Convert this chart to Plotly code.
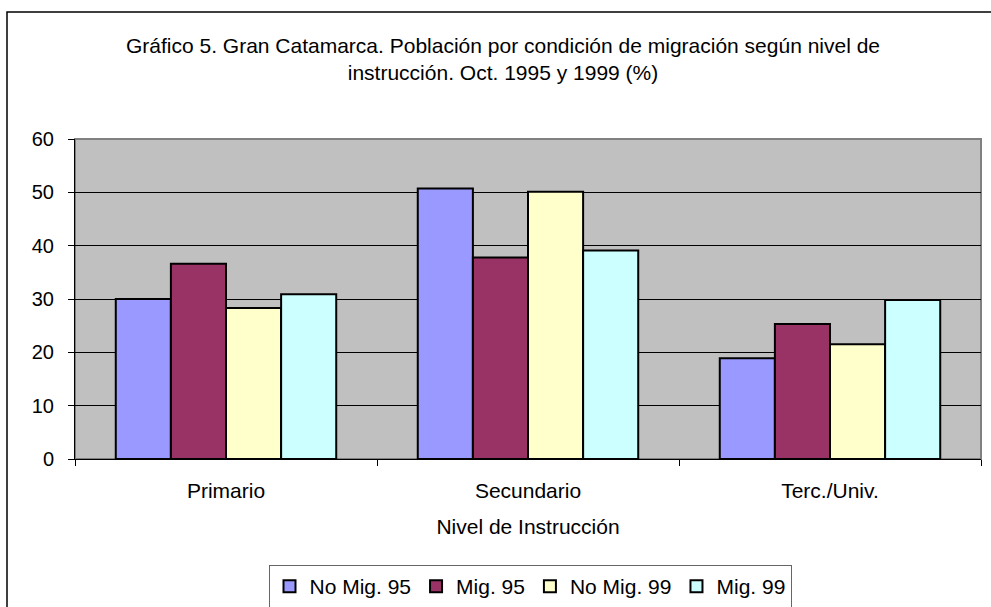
import plotly.graph_objects as go

categories = ["Primario", "Secundario", "Terc./Univ."]
series_names = ["No Mig. 95", "Mig. 95", "No Mig. 99", "Mig. 99"]
no_mig_95 = [30.0, 50.7, 18.9]
mig_95 = [36.6, 37.8, 25.3]
no_mig_99 = [28.3, 50.1, 21.5]
mig_99 = [30.9, 39.1, 29.8]
colors = ["#9999FF", "#993366", "#FFFFCC", "#CCFFFF"]
y_ticks = [0, 10, 20, 30, 40, 50, 60]

FONT = "Liberation Sans, Arial, sans-serif"
FS = 21

fig = go.Figure()
for name, vals, col in zip(series_names, [no_mig_95, mig_95, no_mig_99, mig_99], colors):
    fig.add_trace(go.Bar(
        x=categories, y=vals, name=name,
        marker=dict(color=col, line=dict(color="black", width=2)),
    ))

L, R, T, B = 75, 10, 139, 148
W, H = 991, 607
pw = W - L - R
ph = H - T - B

def px_x(x):
    return (x - L) / pw

def px_y(y):
    return (H - B - y) / ph

fig.update_layout(
    width=W, height=H,
    margin=dict(l=L, r=R, t=T, b=B, autoexpand=False),
    paper_bgcolor="white",
    plot_bgcolor="#C0C0C0",
    barmode="group",
    bargap=0.27,
    bargroupgap=0,
    font=dict(family=FONT, size=FS, color="black"),
    title=dict(
        text="Gráfico 5. Gran Catamarca. Población por condición de migración según nivel de<br>instrucción. Oct. 1995 y 1999 (%)",
        x=503 / W, xref="container", xanchor="center",
        y=1 - 53 / H, yref="container", yanchor="top",
        font=dict(family=FONT, size=FS, color="black"),
    ),
    xaxis=dict(
        type="category",
        automargin=False,
        tickson="boundaries",
        ticks="outside", ticklen=6, tickcolor="black",
        showline=True, linecolor="black", linewidth=1,
        showgrid=False,
        tickfont=dict(size=FS),
        ticklabelstandoff=13,
        title=dict(text="Nivel de Instrucción", font=dict(size=FS), standoff=18),
    ),
    yaxis=dict(
        automargin=False,
        range=[0, 60],
        tickvals=y_ticks,
        ticks="outside", ticklen=6, tickcolor="black",
        showline=True, linecolor="black", linewidth=1,
        showgrid=True, gridcolor="black", gridwidth=1,
        zeroline=False,
        tickfont=dict(size=20),
        ticklabelstandoff=10,
    ),
    legend=dict(
        orientation="h",
        x=px_x(530), xanchor="center",
        y=px_y(565), yanchor="top",
        bordercolor="#666666", borderwidth=1,
        bgcolor="white",
        font=dict(size=FS),
        itemwidth=30,
    ),
    showlegend=True,
)

# plot area border (gray) and outer chart border
fig.add_shape(type="rect", xref="paper", yref="paper", x0=0, y0=0, x1=1, y1=1,
              line=dict(color="#808080", width=2), layer="below")
fig.add_shape(type="rect", xref="paper", yref="paper",
              x0=px_x(7), y0=px_y(640), x1=px_x(1010), y1=px_y(12),
              line=dict(color="black", width=1.5), fillcolor="rgba(0,0,0,0)")

fig.write_html("out.html", config={"displayModeBar": False},
               post_script="document.body.style.margin='0px';")
